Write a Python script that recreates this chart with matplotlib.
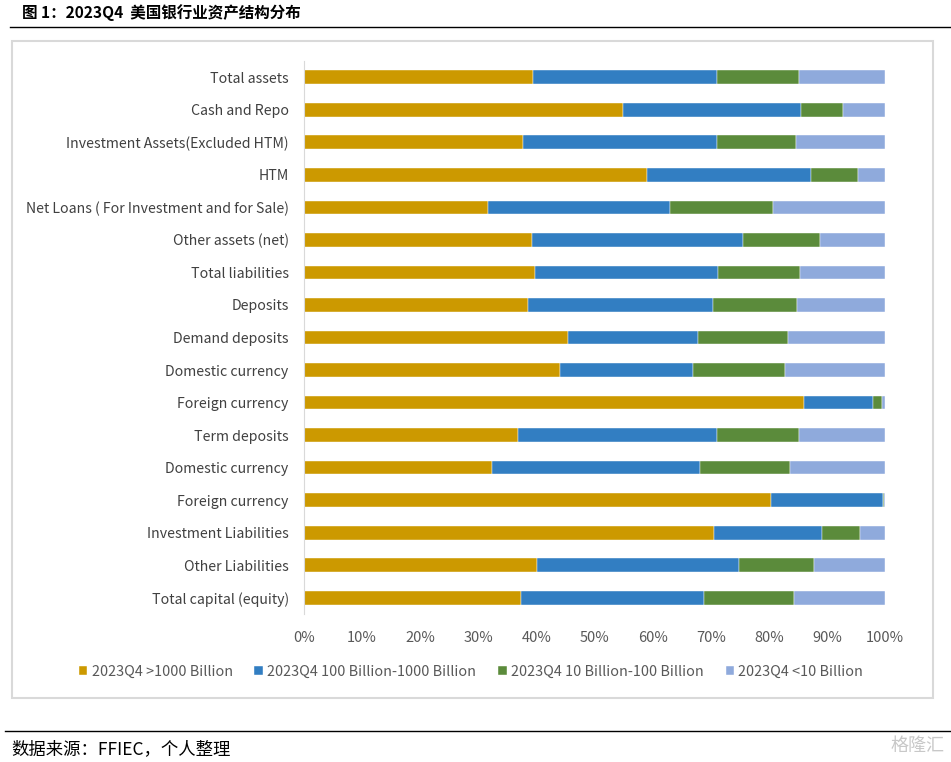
import matplotlib
matplotlib.use("Agg")
import matplotlib.pyplot as plt
from matplotlib.patches import Rectangle
from matplotlib.lines import Line2D
import numpy as np

plt.rcParams['font.family'] = ['Noto Sans CJK SC', 'DejaVu Sans']

categories = [
    "Total assets", "Cash and Repo", "Investment Assets(Excluded HTM)", "HTM",
    "Net Loans ( For Investment and for Sale)", "Other assets (net)",
    "Total liabilities", "Deposits", "Demand deposits", "Domestic currency",
    "Foreign currency", "Term deposits", "Domestic currency", "Foreign currency",
    "Investment Liabilities", "Other Liabilities", "Total capital (equity)",
]
# cumulative boundaries (%)
cum1 = [39.5, 54.9, 37.7, 59.1, 31.6, 39.3, 39.7, 38.6, 45.5, 44.1, 86.0, 36.8, 32.3, 80.4, 70.6, 40.1, 37.3]
cum2 = [71.0, 85.6, 71.1, 87.3, 63.0, 75.6, 71.3, 70.4, 67.9, 67.0, 98.0, 71.0, 68.2, 99.6, 89.2, 74.8, 68.8]
cum3 = [85.2, 92.7, 84.7, 95.4, 80.8, 88.8, 85.4, 84.8, 83.3, 82.8, 99.5, 85.2, 83.7, 99.8, 95.7, 87.7, 84.3]

s_large = cum1
s_mid = [b - a for a, b in zip(cum1, cum2)]
s_small = [b - a for a, b in zip(cum2, cum3)]
s_tiny = [100 - c for c in cum3]

series_names = ["2023Q4 >1000 Billion", "2023Q4 100 Billion-1000 Billion",
                "2023Q4 10 Billion-100 Billion", "2023Q4 <10 Billion"]
colors = ["#CC9900", "#327EC2", "#5B8B3B", "#8FAADC"]
xticklabels = ["0%", "10%", "20%", "30%", "40%", "50%", "60%", "70%", "80%", "90%", "100%"]

W, H = 951, 762
fig = plt.figure(figsize=(W / 100, H / 100), dpi=100)

# frame box
fig.add_artist(Rectangle((12 / W, 1 - 698 / H), (933 - 12) / W, (698 - 41) / H,
                         transform=fig.transFigure, fill=False, edgecolor="#D9D9D9", lw=1.5))
# title and lines
fig.text(22 / W, 1 - 13 / H, "图 1：2023Q4  美国银行业资产结构分布", fontsize=11.2, fontweight="bold",
         va="center", ha="left", color="#000000")
fig.add_artist(Line2D([10 / W, 1], [1 - 27 / H, 1 - 27 / H], transform=fig.transFigure, color="black", lw=1))
fig.add_artist(Line2D([5 / W, 1], [1 - 731 / H, 1 - 731 / H], transform=fig.transFigure, color="black", lw=1))
fig.text(11 / W, 1 - 749 / H, "数据来源：FFIEC，个人整理", fontsize=12.5, va="center", ha="left", color="#000000")
fig.text(945 / W, 1 - 746 / H, "格隆汇", fontsize=13, va="center", ha="right", color="#C8C8C8")

ax = fig.add_axes([304 / W, 1 - 614 / H, (885 - 304) / W, (614 - 61) / H])
y = np.arange(len(categories))
left = np.zeros(len(categories))
for vals, c, name in zip([s_large, s_mid, s_small, s_tiny], colors, series_names):
    ax.barh(y, vals, left=left, height=0.42, color=c, label=name, edgecolor="white", linewidth=0.3)
    left = left + np.array(vals)

ax.set_xlim(0, 100)
ax.set_ylim(len(categories) - 0.5, -0.5)
ax.set_yticks(y)
ax.set_yticklabels(categories, fontsize=10.2, color="#404040")
ax.set_xticks(np.arange(0, 101, 10))
ax.set_xticklabels(xticklabels, fontsize=10.5, color="#595959")
ax.tick_params(axis="both", length=0)
ax.tick_params(axis="x", pad=12)
ax.tick_params(axis="y", pad=11)
for s in ["top", "right", "bottom"]:
    ax.spines[s].set_visible(False)
ax.spines["left"].set_color("#D9D9D9")

handles, labels = ax.get_legend_handles_labels()
fig.legend(handles, labels, loc="center", bbox_to_anchor=(471 / W, 1 - 672 / H), ncol=4, frameon=False,
           fontsize=10.4, handlelength=0.6, handleheight=0.6, handletextpad=0.3, columnspacing=1.5,
           labelcolor="#595959")

fig.savefig("out.png", dpi=100)
